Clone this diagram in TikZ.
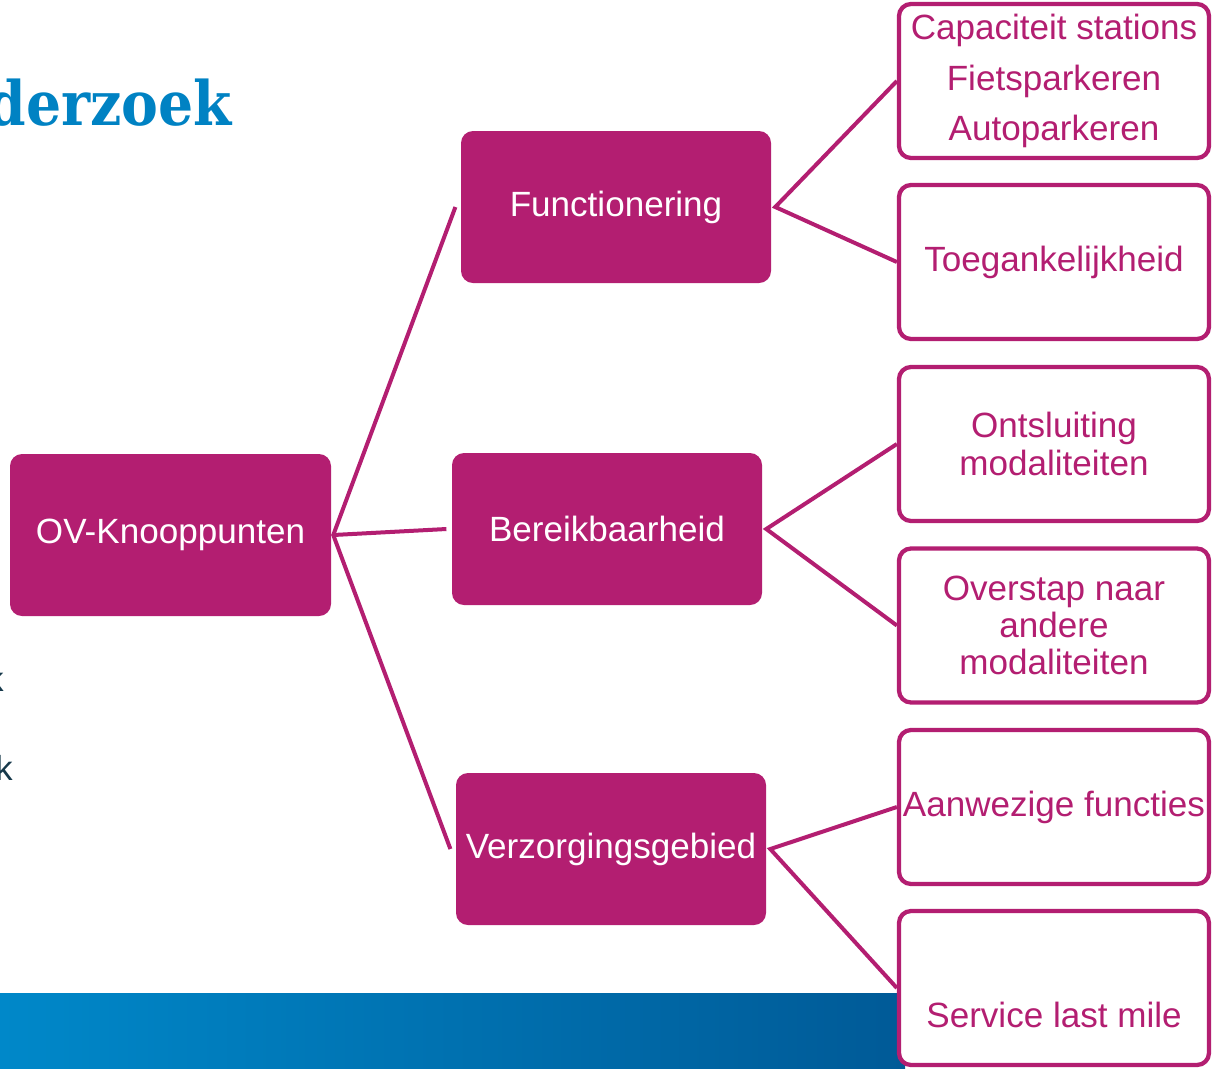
\documentclass[tikz,border=0pt]{standalone}
\usepackage{fontspec}
\setmainfont{Liberation Sans}
\newfontfamily\titlefont{DejaVu Serif Condensed}
\definecolor{mag}{HTML}{B31E71}
\definecolor{ttl}{HTML}{0082C3}
\definecolor{dk}{HTML}{17394B}
\definecolor{bandL}{HTML}{0088C9}
\definecolor{bandR}{HTML}{005A97}
\begin{document}
\begin{tikzpicture}[x=0.75pt,y=-0.75pt,
  mainbox/.style={draw=none,fill=mag,rounded corners=9pt,text=white,font=\fontsize{26.3}{30}\selectfont,inner sep=0pt},
  subbox/.style={draw=mag,line width=3.2pt,fill=white,rounded corners=9pt,text=mag,font=\fontsize{26.3}{28}\selectfont,inner sep=0pt,align=center,minimum width=232.5pt,minimum height=115.5pt},
  conn/.style={draw=mag,line width=3pt,line join=miter}]
\useasboundingbox (0,0) rectangle (1212,1068);
% background elements
\shade[left color=bandL,right color=bandR] (0,993) rectangle (905,1068);
\node[anchor=base east,inner sep=0pt,text=ttl,font=\titlefont\bfseries\fontsize{46}{52}\selectfont] (title) at (232,125) {derzoek};
\node[anchor=base east,inner sep=0pt,text=dk,font=\fontsize{26}{30}\selectfont] (k1) at (4,691) {k};
\node[anchor=base east,inner sep=0pt,text=dk,font=\fontsize{26}{30}\selectfont] (k2) at (13,780) {k};
% main boxes
\node[mainbox,minimum width=240.75pt,minimum height=121.5pt] (ov) at (170.5,535) {OV-Knooppunten};
\node[mainbox,minimum width=232.5pt,minimum height=114pt] (fu) at (616,207) {Functionering};
\node[mainbox,minimum width=232.5pt,minimum height=114pt] (be) at (607,529) {Bereikbaarheid};
\node[mainbox,minimum width=232.5pt,minimum height=114pt] (ve) at (611,849) {Verzorgingsgebied};
% sub boxes
\node[subbox] (s1) at (1054,81) {Capaciteit stations\\[10pt]Fietsparkeren\\[10pt]Autoparkeren};
\node[subbox] (s2) at (1054,262) {Toegankelijkheid};
\node[subbox] (s3) at (1054,444) {Ontsluiting\\modaliteiten};
\node[subbox] (s4) at (1054,625.5) {Overstap naar\\andere\\modaliteiten};
\node[subbox] (s5) at (1054,807) {Aanwezige functies};
\node[subbox,label={[text=mag,font=\fontsize{26.3}{30}\selectfont,yshift=-20pt]center:Service last mile}] (s6) at (1054,988) {};
% connectors
\coordinate (ovj) at ([xshift=1.5pt]ov.east);
\coordinate (fuw) at ([xshift=-4pt]fu.west);
\coordinate (bew) at ([xshift=-4pt]be.west);
\coordinate (vew) at ([xshift=-4pt]ve.west);
\draw[conn] (fuw) -- (ovj) -- (vew);
\draw[conn] (ovj) -- (bew);
\coordinate (fuj) at ([xshift=3pt]fu.east);
\coordinate (bej) at ([xshift=3pt]be.east);
\coordinate (vej) at ([xshift=3pt]ve.east);
\draw[conn] (s1.west) -- (fuj) -- (s2.west);
\draw[conn] (s3.west) -- (bej) -- (s4.west);
\draw[conn] (s5.west) -- (vej) -- (s6.west);
\end{tikzpicture}
\end{document}
